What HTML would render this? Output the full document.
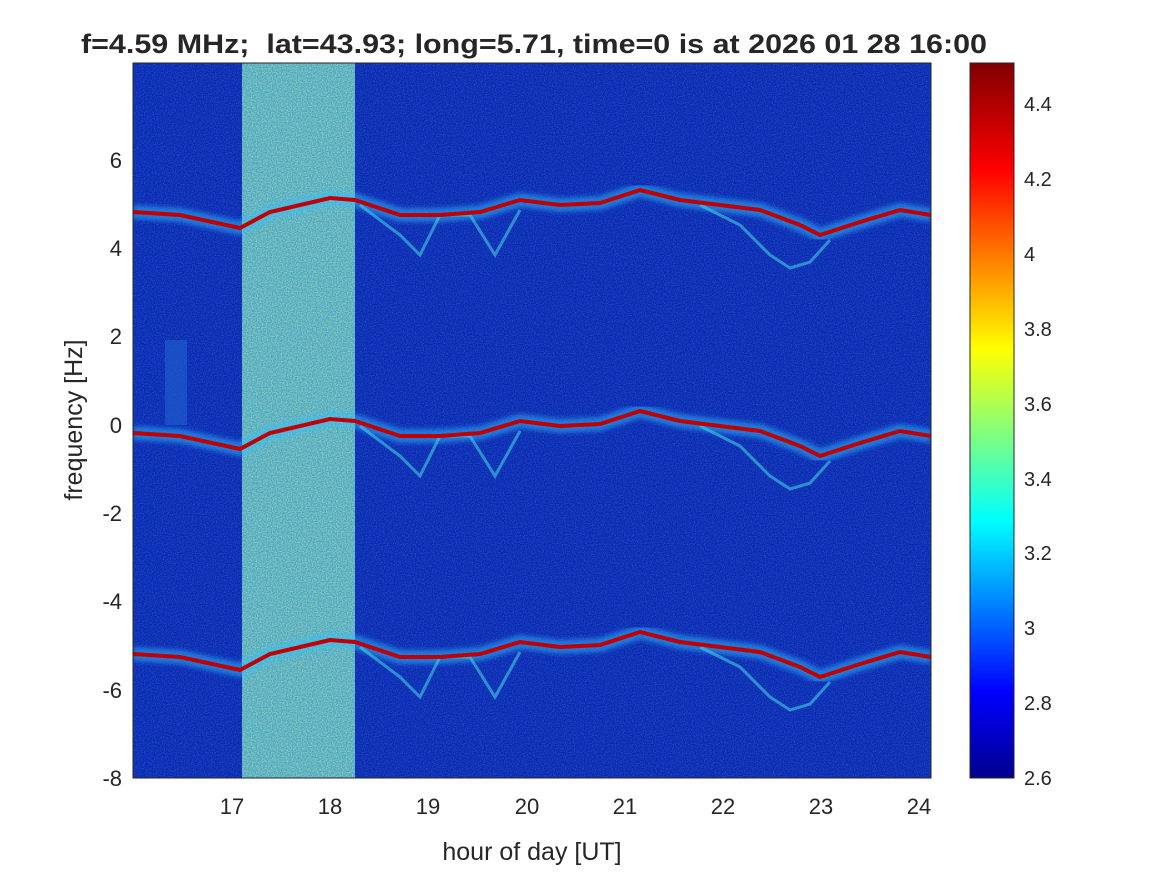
<!DOCTYPE html>
<html><head><meta charset="utf-8"><style>
html,body{margin:0;padding:0;background:#fff}
svg{display:block}
text{font-family:"Liberation Sans",Arial,sans-serif;fill:#262626}
</style></head><body>
<svg width="1167" height="875" viewBox="0 0 1167 875" xmlns="http://www.w3.org/2000/svg">
<defs>
<linearGradient id="jet" x1="0" y1="1" x2="0" y2="0">
<stop offset="0" stop-color="#00008f"/>
<stop offset="0.12" stop-color="#0000ff"/>
<stop offset="0.36" stop-color="#00ffff"/>
<stop offset="0.6" stop-color="#ffff00"/>
<stop offset="0.85" stop-color="#ff0000"/>
<stop offset="1" stop-color="#800000"/>
</linearGradient>
<filter id="noise" x="0" y="0" width="100%" height="100%">
<feTurbulence type="fractalNoise" baseFrequency="0.9" numOctaves="1" seed="3" result="n"/>
<feColorMatrix type="matrix" values="0 0 0 0 0.1  0 0 0 0 0.3  0 0 0 0 1  0 0 0 1.2 -0.45"/>
</filter>
<filter id="noise2" x="0" y="0" width="100%" height="100%">
<feTurbulence type="fractalNoise" baseFrequency="0.8" numOctaves="1" seed="7"/>
<feColorMatrix type="matrix" values="0 0 0 0 1  0 0 0 0 0.9  0 0 0 0 0.2  0 0 0 1.5 -0.5"/>
</filter>
<filter id="blur"><feGaussianBlur stdDeviation="2.5"/></filter>
<clipPath id="pc"><rect x="133" y="63" width="798" height="715"/></clipPath>
</defs>
<rect x="133" y="63" width="798" height="715" fill="#0a2ab0"/>
<rect x="133" y="63" width="798" height="715" filter="url(#noise)" opacity="0.6"/>
<g clip-path="url(#pc)">
<rect x="242" y="63" width="113" height="715" fill="#44a8d0"/>
<rect x="242" y="63" width="113" height="715" filter="url(#noise2)" opacity="0.7"/>
<rect x="165" y="340" width="22" height="85" fill="#2060d0" opacity="0.6"/>
<g id="tr">
<polyline fill="none" stroke="#30c0ff" stroke-width="14" opacity="0.5" filter="url(#blur)" points="133,212 180,215 240,228 270,212 330,198 355,200 400,215 440,215 480,212 520,200 560,205 600,203 640,190 680,200 720,205 760,210 800,225 820,235 860,222 900,210 931,215"/>
<polyline fill="none" stroke="#40d0e0" stroke-width="3" opacity="0.6" points="360,205 400,235 420,255 440,215 470,215 495,255 520,210"/>
<polyline fill="none" stroke="#40d0e0" stroke-width="3" opacity="0.6" points="700,205 740,225 770,255 790,268 810,262 830,240"/>
<polyline fill="none" stroke="#c00000" stroke-width="4" points="133,212 180,215 240,228 270,212 330,198 355,200 400,215 440,215 480,212 520,200 560,205 600,203 640,190 680,200 720,205 760,210 800,225 820,235 860,222 900,210 931,215"/>
</g>
<use href="#tr" transform="translate(0,221)"/>
<use href="#tr" transform="translate(0,442)"/>
</g>
<rect x="133" y="63" width="798" height="715" fill="none" stroke="#262626" stroke-width="1"/>
<g font-size="22" text-anchor="end">
<text x="122" y="786">-8</text><text x="122" y="698">-6</text><text x="122" y="609">-4</text>
<text x="122" y="521">-2</text><text x="122" y="433">0</text><text x="122" y="344">2</text>
<text x="122" y="256">4</text><text x="122" y="168">6</text>
</g>
<g font-size="22" text-anchor="middle">
<text x="232" y="814">17</text><text x="330" y="814">18</text><text x="428" y="814">19</text>
<text x="527" y="814">20</text><text x="625" y="814">21</text><text x="723" y="814">22</text>
<text x="821" y="814">23</text><text x="919" y="814">24</text>
<text x="532" y="860" font-size="25">hour of day [UT]</text>
</g>
<text transform="translate(82,420) rotate(-90)" font-size="25" text-anchor="middle">frequency [Hz]</text>
<text x="534" y="53" font-size="27" font-weight="bold" text-anchor="middle" fill="#000" xml:space="preserve" textLength="906" lengthAdjust="spacingAndGlyphs">f=4.59 MHz;  lat=43.93; long=5.71, time=0 is at 2026 01 28 16:00</text>
<rect x="970" y="63" width="44" height="715" fill="url(#jet)" stroke="#262626" stroke-width="1"/>
<g font-size="20">
<text x="1024" y="785">2.6</text><text x="1024" y="710">2.8</text><text x="1024" y="635">3</text>
<text x="1024" y="560">3.2</text><text x="1024" y="486">3.4</text><text x="1024" y="411">3.6</text>
<text x="1024" y="336">3.8</text><text x="1024" y="261">4</text><text x="1024" y="186">4.2</text>
<text x="1024" y="111">4.4</text>
</g>
</svg>
</body></html>
